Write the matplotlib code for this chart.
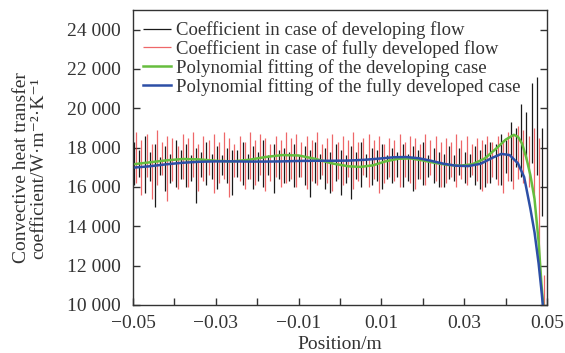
import numpy as np
import matplotlib
matplotlib.use("Agg")
import matplotlib.pyplot as plt
from matplotlib.ticker import FuncFormatter, MultipleLocator

plt.rcParams['font.family'] = ['Liberation Serif', 'DejaVu Serif']

# raw coefficient, developing flow (black) - bar low / high at each sampled position
dev_x = np.linspace(-0.0497, 0.0488, 80)
dev_hi = [18300, 17900, 18600, 17800, 18200, 17500, 18100, 17700, 18400, 17900,
          18200, 17600, 18000, 17800, 18300, 17700, 18100, 17600, 18000, 17900,
          17900, 18300, 17700, 18100, 17800, 18400, 17600, 18200, 17900, 18000,
          17800, 18200, 17600, 18100, 17900, 18300, 17700, 18000, 17800, 18200,
          17900, 17600, 18100, 17800, 18300, 17700, 18000, 17900, 18200, 17600,
          18000, 17800, 18200, 17700, 18100, 17900, 18300, 17600, 18000, 17800,
          17700, 18100, 17600, 18000, 17800, 17700, 18100, 17900, 18200, 18300,
          18200, 18700, 18400, 19300, 19000, 20200, 19800, 21300, 21600, 19000]
dev_lo = [16100, 16500, 15700, 16300, 15000, 16600, 15800, 16200, 16000, 16400,
          16000, 16300, 15200, 16500, 16100, 16400, 15900, 16600, 16200, 15600,
          16500, 16100, 16400, 15900, 16300, 16000, 16600, 15700, 16400, 16200,
          16300, 16000, 16500, 16100, 15500, 16200, 16400, 15900, 15700, 16300,
          15600, 16200, 15400, 16400, 16000, 16500, 16100, 16300, 15900, 16400,
          16200, 16500, 16000, 16300, 15800, 16400, 16100, 16500, 16200, 16000,
          16000, 16400, 16300, 16600, 16200, 16500, 16100, 15900, 16000, 16200,
          16400, 16100, 16700, 16300, 17000, 16500, 17400, 17200, 16600, 14500]

# raw coefficient, fully developed flow (red)
full_x = np.linspace(-0.0492, 0.0493, 80)
full_hi = [18800, 18400, 18700, 18200, 18900, 18300, 18600, 18500, 18100, 18700,
           18500, 18800, 18200, 18600, 18400, 18700, 18300, 18800, 18500, 18200,
           18600, 18300, 18800, 18400, 18700, 18500, 18200, 18600, 18400, 18800,
           18500, 18700, 18300, 18600, 18400, 18800, 18200, 18500, 18700, 18300,
           18600, 18400, 18800, 18300, 18500, 18700, 18400, 18600, 18200, 18500,
           18400, 18700, 18300, 18600, 18500, 18200, 18700, 18400, 18600, 18300,
           18500, 18300, 18700, 18400, 18600, 18200, 18500, 18400, 18600, 18300,
           18600, 18400, 18800, 18700, 19100, 18900, 18600, 19000, 18500, 11500]
full_lo = [16200, 15600, 16500, 15400, 16100, 16600, 15300, 16300, 15900, 16400,
           16000, 16500, 15800, 16300, 16600, 15700, 16200, 16400, 15500, 16500,
           16300, 15900, 16400, 16100, 16600, 15800, 16300, 16500, 16000, 16200,
           16400, 16000, 16500, 15900, 16300, 16100, 16600, 16200, 15800, 16400,
           16100, 16500, 15900, 16300, 16600, 16000, 16400, 15700, 16200, 16500,
           16300, 16000, 16500, 16200, 15900, 16400, 16100, 16600, 16300, 16000,
           16200, 16500, 16000, 16400, 16100, 16600, 16300, 15800, 16200, 16500,
           16100, 15700, 16300, 15900, 16400, 16200, 16000, 15500, 12000, 9800]

# polynomial fits
fit_dev_x = [-0.050, -0.046, -0.042, -0.038, -0.034, -0.030, -0.026, -0.022, -0.018,
             -0.014, -0.010, -0.006, -0.002, 0.002, 0.005, 0.008, 0.011, 0.014,
             0.017, 0.020, 0.023, 0.026, 0.029, 0.032, 0.035, 0.038, 0.040, 0.042,
             0.043, 0.044, 0.045, 0.046, 0.047, 0.048, 0.0487, 0.0492]
fit_dev_y = [17150, 17250, 17350, 17420, 17400, 17330, 17300, 17380, 17520,
             17620, 17600, 17430, 17200, 17050, 17020, 17100, 17300, 17430,
             17450, 17350, 17220, 17120, 17080, 17150, 17450, 18000, 18400, 18650,
             18550, 18200, 17500, 16600, 15400, 13200, 11000, 9800]

fit_full_x = [-0.050, -0.046, -0.042, -0.038, -0.034, -0.030, -0.026, -0.022, -0.018,
              -0.014, -0.010, -0.006, -0.002, 0.002, 0.006, 0.010, 0.013, 0.016,
              0.019, 0.022, 0.025, 0.028, 0.031, 0.034, 0.037, 0.039, 0.041, 0.043,
              0.0445, 0.046, 0.047, 0.048, 0.0487, 0.0491]
fit_full_y = [16980, 17050, 17150, 17230, 17280, 17300, 17300, 17290, 17290,
              17300, 17320, 17330, 17330, 17340, 17380, 17450, 17510, 17520,
              17460, 17330, 17180, 17080, 17060, 17180, 17500, 17680, 17620, 17200,
              16500, 14900, 13700, 12100, 10700, 9800]

fig = plt.figure(figsize=(5.65, 3.53), dpi=100)
ax = fig.add_axes([0.2354, 0.136, 0.7326, 0.836])

ax.vlines(dev_x, dev_lo, dev_hi, color='#1a1a1a', lw=0.9,
          label='Coefficient in case of developing flow')
ax.vlines(full_x, full_lo, full_hi, color='#e8262a', lw=0.9, alpha=0.7,
          label='Coefficient in case of fully developed flow')
ax.plot(fit_dev_x, fit_dev_y, color='#66bd3e', lw=1.8,
        label='Polynomial fitting of the developing case')
ax.plot(fit_full_x, fit_full_y, color='#2d4fa6', lw=1.8,
        label='Polynomial fitting of the fully developed case')

ax.set_xlim(-0.05, 0.05)
ax.set_ylim(10000, 25000)
ax.xaxis.set_major_locator(MultipleLocator(0.01))
ax.yaxis.set_major_locator(MultipleLocator(2000))


def xfmt(v, pos):
    k = int(round(v * 100))
    if k % 2 == 0:
        return ''
    return f'{v:.2f}'.replace('-', '\u2212')


def yfmt(v, pos):
    s = f'{int(v):,}'.replace(',', ' ')
    return s


ax.xaxis.set_major_formatter(FuncFormatter(xfmt))
ax.yaxis.set_major_formatter(FuncFormatter(yfmt))
ax.tick_params(direction='in', length=5, width=1, labelsize=14, colors='#333333',
               right=True, top=False)
ax.tick_params(axis='x', pad=7)
ax.tick_params(axis='y', pad=9)
for s in ax.spines.values():
    s.set_color('#333333')
    s.set_linewidth(1)

ax.set_xlabel('Position/m', fontsize=14, color='#333333', labelpad=3)
ax.set_ylabel('Convective heat transfer\ncoefficient/W\u00b7m\u207b\u00b2\u00b7K\u207b\u00b9',
              fontsize=14, color='#333333', linespacing=1.0)
ax.yaxis.set_label_coords(-0.208, 0.464)

leg = ax.legend(loc='upper left', frameon=False, fontsize=13.5, handlelength=1.5,
                handletextpad=0.3, labelspacing=0.05, borderaxespad=0.0,
                bbox_to_anchor=(0.005, 0.987))
for t in leg.get_texts():
    t.set_color('#333333')

fig.savefig('out.png', dpi=100)
